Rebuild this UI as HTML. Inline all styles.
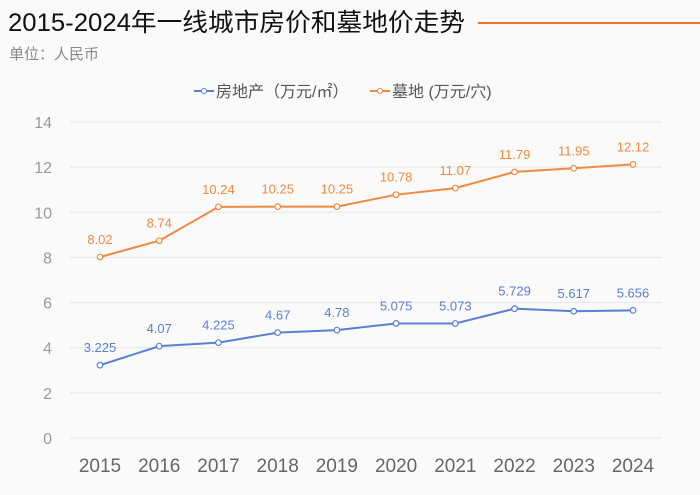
<!DOCTYPE html>
<html><head><meta charset="utf-8"><style>
body{margin:0;background:#fafafa;}
svg{display:block;font-family:"Liberation Sans","Noto Sans CJK SC",sans-serif;}
</style></head><body>
<svg id="c" width="700" height="495">
<rect width="700" height="495" fill="#fafafa"/>
<text x="8" y="31" font-size="25" textLength="457" lengthAdjust="spacingAndGlyphs" fill="#111">2015-2024年一线城市房价和墓地价走势</text>
<line x1="478" y1="23" x2="700" y2="23" stroke="#f07030" stroke-width="2"/>
<text x="9" y="59" font-size="15" fill="#888">单位：人民币</text>
<g>
<line x1="194" y1="91" x2="214" y2="91" stroke="#5b7fd4" stroke-width="2"/><circle cx="204" cy="91" r="2.5" fill="#fff" stroke="#5b7fd4"/>
<text x="216" y="97" font-size="16" fill="#555">房地产（万元/㎡）</text></g>
<g>
<line x1="370" y1="91" x2="390" y2="91" stroke="#f08a40" stroke-width="2"/><circle cx="380" cy="91" r="2.5" fill="#fff" stroke="#f08a40"/>
<text x="392" y="97" font-size="16" fill="#555">墓地 (万元/穴)</text></g>
<g id="grid"></g><g id="series"></g>
</svg>
<script>
const years=["2015","2016","2017","2018","2019","2020","2021","2022","2023","2024"];
const realEstate=[3.225,4.07,4.225,4.67,4.78,5.075,5.073,5.729,5.617,5.656];
const realEstateLabels=["3.225","4.07","4.225","4.67","4.78","5.075","5.073","5.729","5.617","5.656"];
const cemetery=[8.02,8.74,10.24,10.25,10.25,10.78,11.07,11.79,11.95,12.12];
const cemeteryLabels=["8.02","8.74","10.24","10.25","10.25","10.78","11.07","11.79","11.95","12.12"];
const yTicks=[0,2,4,6,8,10,12,14];
const NS="http://www.w3.org/2000/svg";
const y=v=>438-v*(316/14);
const x=i=>100+i*(533/9);
function mk(t,a,p){const e=document.createElementNS(NS,t);for(const k in a)e.setAttribute(k,a[k]);p.appendChild(e);return e;}
const g=document.getElementById('grid'),s=document.getElementById('series');
yTicks.forEach(v=>{
 const l=mk('line',{x1:70,x2:662,y1:y(v),y2:y(v),stroke:'#e6e6e6','stroke-width':1},g);
 
 
 const t=mk('text',{x:52,y:y(v)+6,'font-size':16,fill:'#999','text-anchor':'end'},g);t.textContent=v;
 
 
});
years.forEach((yr,i)=>{
 const t=mk('text',{x:x(i),y:472,'font-size':19,fill:'#666','text-anchor':'middle'},g);t.textContent=yr;
 
 
});
function series(vals,labels,color,name){
 const p=mk('polyline',{points:vals.map((v,i)=>x(i)+','+y(v)).join(' '),fill:'none',stroke:color,'stroke-width':2},s);
 
 
 vals.forEach((v,i)=>{
  const c=mk('circle',{cx:x(i),cy:y(v),r:2.8,fill:'#fff',stroke:color,'stroke-width':1.2},s);
  
  
  const t=mk('text',{x:x(i),y:y(v)-13,'font-size':13,fill:color,'text-anchor':'middle'},s);t.textContent=labels[i];
  
  
 });
}
series(realEstate,realEstateLabels,'#5b7fd4','realestate');
series(cemetery,cemeteryLabels,'#f08a40','cemetery');
</script>
</body></html>
